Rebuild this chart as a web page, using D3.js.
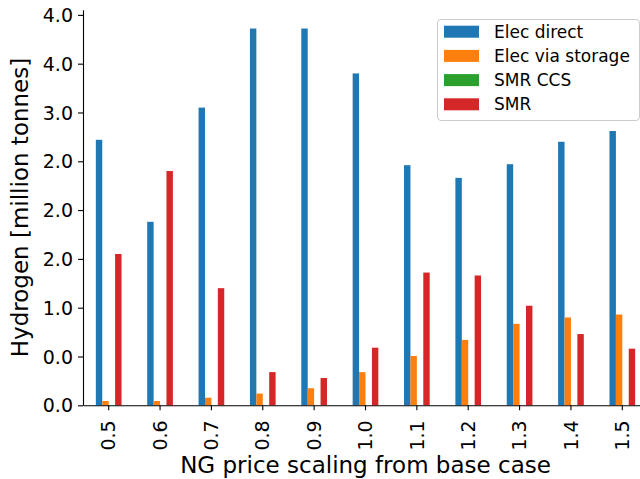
<!DOCTYPE html>
<html>
<head>
<meta charset="utf-8">
<script src="https://cdn.jsdelivr.net/npm/d3@7"></script>
<style>
  body { margin: 0; background: #fff; }
  svg { display: block; }
  text { font-family: "DejaVu Sans", sans-serif; fill: #000; }
</style>
</head>
<body>
<svg id="chart" width="640" height="479"></svg>
<script>
// NG price scaling factors (x categories)
const categories = ["0.5", "0.6", "0.7", "0.8", "0.9", "1.0", "1.1", "1.2", "1.3", "1.4", "1.5"];
const seriesNames = ["Elec direct", "Elec via storage", "SMR CCS", "SMR"];

// Hydrogen production per technology [million tonnes]
const elecDirect     = [2.72, 1.88, 3.05, 3.86, 3.86, 3.40, 2.46, 2.33, 2.47, 2.70, 2.81];
const elecViaStorage = [0.044, 0.044, 0.078, 0.12, 0.175, 0.34, 0.505, 0.67, 0.835, 0.90, 0.93];
const smrCcs         = [0, 0, 0, 0, 0, 0, 0, 0, 0, 0, 0];
const smr            = [1.55, 2.40, 1.20, 0.34, 0.28, 0.59, 1.36, 1.33, 1.02, 0.73, 0.58];

// Y ticks and their printed labels
const yTickValues = [0, 0.5, 1, 1.5, 2, 2.5, 3, 3.5, 4];
const yTickLabels = ["0.0", "0.0", "1.0", "2.0", "2.0", "2.0", "3.0", "4.0", "4.0"];

const colors = ["#1f77b4", "#ff7f0e", "#2ca02c", "#d62728"];

const seriesValues = [elecDirect, elecViaStorage, smrCcs, smr];
const rows = categories.map((c, i) => ({
  cat: c,
  vals: seriesNames.map((s, j) => ({ name: s, value: seriesValues[j][i], color: colors[j] }))
}));

const svg = d3.select("#chart");
const plotLeft = 83, plotRight = 648, plotTop = 9.7, plotBottom = 405.3;

const x0 = d3.scaleBand()
  .domain(categories)
  .range([plotLeft, plotRight])
  .paddingInner(0.5)
  .paddingOuter(0.25);

const x1 = d3.scaleBand()
  .domain(seriesNames)
  .range([0, x0.bandwidth()]);

const yMax = d3.max(seriesValues.flat()) * 1.05;
const y = d3.scaleLinear().domain([0, yMax]).range([plotBottom, plotTop]);

// Bars
const groups = svg.append("g")
  .selectAll("g")
  .data(rows)
  .join("g")
  .attr("transform", d => `translate(${x0(d.cat)},0)`);

groups.selectAll("rect")
  .data(d => d.vals)
  .join("rect")
  .attr("x", d => x1(d.name))
  .attr("width", x1.bandwidth())
  .attr("y", d => y(d.value))
  .attr("height", d => y(0) - y(d.value))
  .attr("fill", d => d.color);

// Y axis
const yAxis = svg.append("g")
  .attr("transform", `translate(${plotLeft},0)`)
  .call(d3.axisLeft(y)
    .tickValues(yTickValues)
    .tickFormat((d, i) => yTickLabels[i])
    .tickSize(5)
    .tickPadding(5)
    .tickSizeOuter(0));
yAxis.selectAll("text")
  .style("font-size", "19px")
  .attr("dy", "0.35em");
yAxis.selectAll("line, path").attr("stroke", "#000").attr("stroke-width", 1.1);

// X axis
const xAxis = svg.append("g")
  .attr("transform", `translate(0,${plotBottom})`)
  .call(d3.axisBottom(x0).tickSize(5).tickSizeOuter(0));
xAxis.selectAll("text")
  .style("font-size", "19px")
  .attr("transform", "rotate(-90)")
  .attr("x", -15)
  .attr("y", 0)
  .attr("dy", "0.35em")
  .attr("text-anchor", "end");
xAxis.selectAll("line, path").attr("stroke", "#000").attr("stroke-width", 1.1);

// Axis titles
svg.append("text")
  .attr("x", (plotLeft + plotRight) / 2)
  .attr("y", 473)
  .attr("text-anchor", "middle")
  .style("font-size", "23px")
  .text("NG price scaling from base case");

svg.append("text")
  .attr("transform", `translate(28,${(plotTop + plotBottom) / 2}) rotate(-90)`)
  .attr("text-anchor", "middle")
  .style("font-size", "23px")
  .text("Hydrogen [million tonnes]");

// Legend
const legend = svg.append("g");
legend.append("rect")
  .attr("x", 437.5).attr("y", 19.5)
  .attr("width", 202).attr("height", 101)
  .attr("rx", 3.5)
  .attr("fill", "#fff").attr("fill-opacity", 0.8)
  .attr("stroke", "#cccccc").attr("stroke-width", 1);

const items = legend.selectAll("g.item")
  .data(seriesNames)
  .join("g")
  .attr("class", "item")
  .attr("transform", (d, i) => `translate(0,${31.7 + i * 24.2})`);
items.append("rect")
  .attr("x", 444).attr("y", -6)
  .attr("width", 35).attr("height", 12)
  .attr("fill", (d, i) => colors[i]);
items.append("text")
  .attr("x", 494).attr("y", 0)
  .attr("dy", "0.36em")
  .style("font-size", "17px")
  .text(d => d);
</script>
</body>
</html>
